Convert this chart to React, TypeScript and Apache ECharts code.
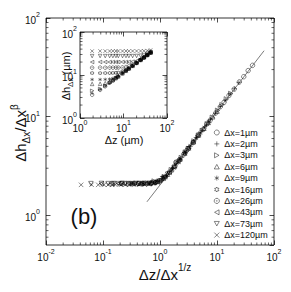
import React, { useEffect, useRef } from "react";
import * as echarts from "echarts";

// ---- data ----
const seriesNames = ["Δx=1µm", "Δx=2µm", "Δx=3µm", "Δx=6µm", "Δx=9µm", "Δx=16µm", "Δx=26µm", "Δx=43µm", "Δx=73µm", "Δx=120µm"];
const dxValues = [1, 2, 3, 6, 9, 16, 26, 43, 73, 120];
const dzValues = [1.9, 2.9, 3.8, 4.8, 5.7, 6.7, 7.6, 9.5, 11.4, 13.3, 16.2, 20, 24.7, 29.5, 35.2, 42];

const dh1 = [3.45, 4.5, 5.45, 6.6, 7.4, 8.45, 9.2, 10.9, 12.6, 14.0, 16.4, 19.0, 22.5, 25.4, 29.3, 33.1];
const dh2 = [3.75, 4.55, 5.55, 6.5, 7.5, 8.35, 9.3, 11.0, 12.45, 14.15, 16.25, 19.2, 22.3, 25.7, 29.1, 33.5];
const dh3 = [4.3, 4.75, 5.6, 6.6, 7.45, 8.45, 9.2, 10.95, 12.55, 14.0, 16.35, 19.05, 22.4, 25.5, 29.25, 33.2];
const dh6 = [6.2, 6.25, 6.45, 6.95, 7.65, 8.5, 9.3, 10.95, 12.5, 14.1, 16.3, 19.15, 22.35, 25.6, 29.2, 33.35];
const dh9 = [7.85, 7.85, 7.9, 8.05, 8.35, 8.9, 9.5, 11.0, 12.6, 14.05, 16.3, 19.1, 22.4, 25.55, 29.2, 33.3];
const dh16 = [11.1, 11.05, 11.1, 11.1, 11.15, 11.25, 11.4, 12.0, 13.05, 14.3, 16.4, 19.1, 22.4, 25.6, 29.2, 33.3];
const dh26 = [14.8, 14.85, 14.8, 14.85, 14.85, 14.85, 14.9, 15.0, 15.3, 15.8, 17.1, 19.4, 22.5, 25.6, 29.2, 33.3];
const dh43 = [20.0, 20.1, 20.05, 20.05, 20.1, 20.05, 20.1, 20.1, 20.1, 20.2, 20.5, 21.4, 23.4, 26.0, 29.4, 33.4];
const dh73 = [27.5, 27.6, 27.5, 27.55, 27.5, 27.6, 27.55, 27.5, 27.6, 27.55, 27.6, 27.75, 28.15, 29.1, 31.0, 34.2];
const dh120 = [36.0, 36.1, 36.0, 36.05, 36.1, 36.0, 36.1, 36.05, 36.1, 36.0, 36.1, 36.1, 36.2, 36.4, 36.9, 38.0];
const dhSeries = [dh1, dh2, dh3, dh6, dh9, dh16, dh26, dh43, dh73, dh120];

// scaling exponents used for the collapse
const BETA = 0.6;
const INV_Z = 0.8;

// reference power-law line
const refLineX = [0.59, 67];
const refLineY = [1.37, 46.6];

// axis ranges
const mainX = [0.01, 100];
const mainY = [0.5, 100];
const insetX = [1, 100];
const insetY = [1, 100];

const mainXMinor = [0.02, 0.03, 0.04, 0.05, 0.06, 0.07, 0.08, 0.09, 0.2, 0.3, 0.4, 0.5, 0.6, 0.7, 0.8, 0.9, 2, 3, 4, 5, 6, 7, 8, 9, 20, 30, 40, 50, 60, 70, 80, 90];
const mainYMinor = [0.6, 0.7, 0.8, 0.9, 2, 3, 4, 5, 6, 7, 8, 9, 20, 30, 40, 50, 60, 70, 80, 90];
const insetMinor = [2, 3, 4, 5, 6, 7, 8, 9, 20, 30, 40, 50, 60, 70, 80, 90];

const FONT = "Liberation Sans, Arial, Helvetica, sans-serif";

const symbols = [
  "circle",
  "path://M5 0V10M0 5H10",
  "path://M1 0L10 5L1 10Z",
  "path://M5 0.5L10 9.5L0 9.5Z",
  "path://M5 0V10M0.7 2.5L9.3 7.5M0.7 7.5L9.3 2.5",
  "path://M5 0L6.4 2.5H9.3L7.9 5L9.3 7.5H6.4L5 10L3.6 7.5H0.7L2.1 5L0.7 2.5H3.6Z",
  "path://M3 0H7L10 3V7L7 10H3L0 7V3ZM5 4L6 5L5 6L4 5Z",
  "path://M9 0L0 5L9 10Z",
  "path://M0 0.5H10L5 9.5Z",
  "path://M0 0L10 10M0 10L10 0",
];

function expLabel(v: number) {
  const e = Math.round(Math.log10(v));
  return `{b|10}{s|${e}}`;
}

const labelRich = {
  b: { fontSize: 10, fontFamily: FONT, color: "#111", lineHeight: 14, verticalAlign: "bottom" },
  s: { fontSize: 7, fontFamily: FONT, color: "#111", lineHeight: 8, verticalAlign: "top" },
};

function minorTickSeries(xIdx: number, yIdx: number, xr: number[], yr: number[], xs: number[], ys: number[]) {
  const data: number[][] = [];
  xs.forEach((v) => data.push([v, yr[0] * 1.5, 0]));
  ys.forEach((v) => data.push([xr[0] * 1.5, v, 1]));
  const L = 2.5;
  const st = { stroke: "#000", lineWidth: 0.6 };
  return {
    type: "custom",
    xAxisIndex: xIdx,
    yAxisIndex: yIdx,
    silent: true,
    clip: false,
    z: 5,
    data,
    renderItem: (params: any, api: any) => {
      const t = api.value(2);
      if (t === 0) {
        const v = api.value(0);
        const b = api.coord([v, yr[0]]);
        const tp = api.coord([v, yr[1]]);
        return {
          type: "group",
          children: [
            { type: "line", shape: { x1: b[0], y1: b[1], x2: b[0], y2: b[1] - L }, style: st },
            { type: "line", shape: { x1: tp[0], y1: tp[1], x2: tp[0], y2: tp[1] + L }, style: st },
          ],
        };
      }
      const v = api.value(1);
      const l = api.coord([xr[0], v]);
      const r = api.coord([xr[1], v]);
      return {
        type: "group",
        children: [
          { type: "line", shape: { x1: l[0], y1: l[1], x2: l[0] + L, y2: l[1] }, style: st },
          { type: "line", shape: { x1: r[0], y1: r[1], x2: r[0] - L, y2: r[1] }, style: st },
        ],
      };
    },
  };
}

function logAxis(gridIndex: number, range: number[], position: string, showLabel: boolean, margin: number) {
  return {
    type: "log",
    logBase: 10,
    gridIndex,
    min: range[0],
    max: range[1],
    position,
    axisLine: { show: false },
    splitLine: { show: false },
    axisTick: { show: true, inside: true, length: 4.5, lineStyle: { color: "#000", width: 0.7 } },
    axisLabel: {
      show: showLabel,
      margin,
      showMinLabel: range[0] === 0.5 ? false : true,
      formatter: expLabel,
      rich: labelRich,
    },
  };
}

export default function App() {
  const ref = useRef<HTMLDivElement>(null);
  useEffect(() => {
    if (!ref.current) return;
    const chart = echarts.init(ref.current, null, { renderer: "svg" });

    const mainSeries = dhSeries.map((dh, i) => ({
      type: "scatter",
      name: seriesNames[i],
      xAxisIndex: 0,
      yAxisIndex: 0,
      symbol: symbols[i],
      symbolSize: 4.5,
      itemStyle: { color: "rgba(0,0,0,0)", borderColor: "#000", borderWidth: 0.6 },
      data: dh.map((h, j) => [dzValues[j] / Math.pow(dxValues[i], INV_Z), h / Math.pow(dxValues[i], BETA)]),
      z: 3,
    }));

    const insetSeries = dhSeries.map((dh, i) => ({
      type: "scatter",
      name: seriesNames[i],
      xAxisIndex: 2,
      yAxisIndex: 2,
      symbol: symbols[i],
      symbolSize: 3.5,
      itemStyle: { color: "rgba(0,0,0,0)", borderColor: "#000", borderWidth: 0.55 },
      data: dh.map((h, j) => [dzValues[j], h]),
      z: 6,
    }));

    const option: any = {
      animation: false,
      backgroundColor: "#fff",
      textStyle: { fontFamily: FONT },
      grid: [
        { left: 46, top: 18, width: 228, height: 227, show: true, borderColor: "#000", borderWidth: 0.8, backgroundColor: "rgba(0,0,0,0)" },
        { left: 80, top: 32, width: 87, height: 86, show: true, borderColor: "#000", borderWidth: 0.8, backgroundColor: "#fff", z: 4 },
      ],
      xAxis: [
        logAxis(0, mainX, "bottom", true, 3),
        logAxis(0, mainX, "top", false, 3),
        { ...logAxis(1, insetX, "bottom", true, 1), z: 5 },
        { ...logAxis(1, insetX, "top", false, 1), z: 5 },
      ],
      yAxis: [
        logAxis(0, mainY, "left", true, 6),
        logAxis(0, mainY, "right", false, 6),
        { ...logAxis(1, insetY, "left", true, 3), z: 5 },
        { ...logAxis(1, insetY, "right", false, 3), z: 5 },
      ],
      legend: {
        orient: "vertical",
        left: 214,
        top: 127,
        itemWidth: 5,
        itemHeight: 5,
        itemGap: 0.4,
        padding: 0,
        selectedMode: false,
        data: seriesNames,
        itemStyle: { color: "rgba(0,0,0,0)", borderColor: "#000", borderWidth: 0.6 },
        textStyle: { fontSize: 9, lineHeight: 11, fontFamily: FONT, color: "#111" },
      },
      series: [
        ...mainSeries,
        {
          type: "line",
          xAxisIndex: 0,
          yAxisIndex: 0,
          symbol: "none",
          silent: true,
          lineStyle: { color: "#222", width: 0.6 },
          data: refLineX.map((x, i) => [x, refLineY[i]]),
          z: 2,
        },
        minorTickSeries(0, 0, mainX, mainY, mainXMinor, mainYMinor),
        ...insetSeries,
        { ...minorTickSeries(2, 2, insetX, insetY, insetMinor, insetMinor), z: 7 },
      ],
      graphic: [
        {
          type: "text",
          x: 165,
          y: 272,
          style: {
            text: "{a|Δz/Δx}{s|1/z}",
            align: "center",
            verticalAlign: "middle",
            rich: {
              a: { fontSize: 15, fontFamily: FONT, fill: "#111", lineHeight: 20, verticalAlign: "bottom" },
              s: { fontSize: 10, fontFamily: FONT, fill: "#111", lineHeight: 10, verticalAlign: "top" },
            },
          },
        },
        {
          type: "text",
          x: 20,
          y: 133,
          rotation: Math.PI / 2,
          style: {
            text: "{a|Δh}{sub|Δx}{a|/Δx}{sup|β}",
            align: "center",
            verticalAlign: "middle",
            rich: {
              a: { fontSize: 15, fontFamily: FONT, fill: "#111", lineHeight: 22, verticalAlign: "middle" },
              sub: { fontSize: 10, fontFamily: FONT, fill: "#111", lineHeight: 10, verticalAlign: "bottom" },
              sup: { fontSize: 10, fontFamily: FONT, fill: "#111", lineHeight: 10, verticalAlign: "top" },
            },
          },
        },
        {
          type: "text",
          x: 124,
          y: 140,
          z: 10,
          style: { text: "Δz (µm)", fontSize: 11, fontFamily: FONT, fill: "#111", align: "center", verticalAlign: "middle" },
        },
        {
          type: "text",
          x: 66,
          y: 76,
          z: 10,
          rotation: Math.PI / 2,
          style: {
            text: "{a|Δh}{sub|Δx}{a| (µm)}",
            align: "center",
            verticalAlign: "middle",
            rich: {
              a: { fontSize: 11, fontFamily: FONT, fill: "#111", lineHeight: 16, verticalAlign: "middle" },
              sub: { fontSize: 8, fontFamily: FONT, fill: "#111", lineHeight: 8, verticalAlign: "bottom" },
            },
          },
        },
        {
          type: "text",
          x: 84,
          y: 216,
          style: { text: "(b)", fontSize: 22, fontFamily: FONT, fill: "#111", align: "center", verticalAlign: "middle" },
        },
      ],
    };
    chart.setOption(option);
    return () => chart.dispose();
  }, []);
  return <div ref={ref} style={{ position: "fixed", left: 0, top: 0, width: 291, height: 292, background: "#fff" }} />;
}
